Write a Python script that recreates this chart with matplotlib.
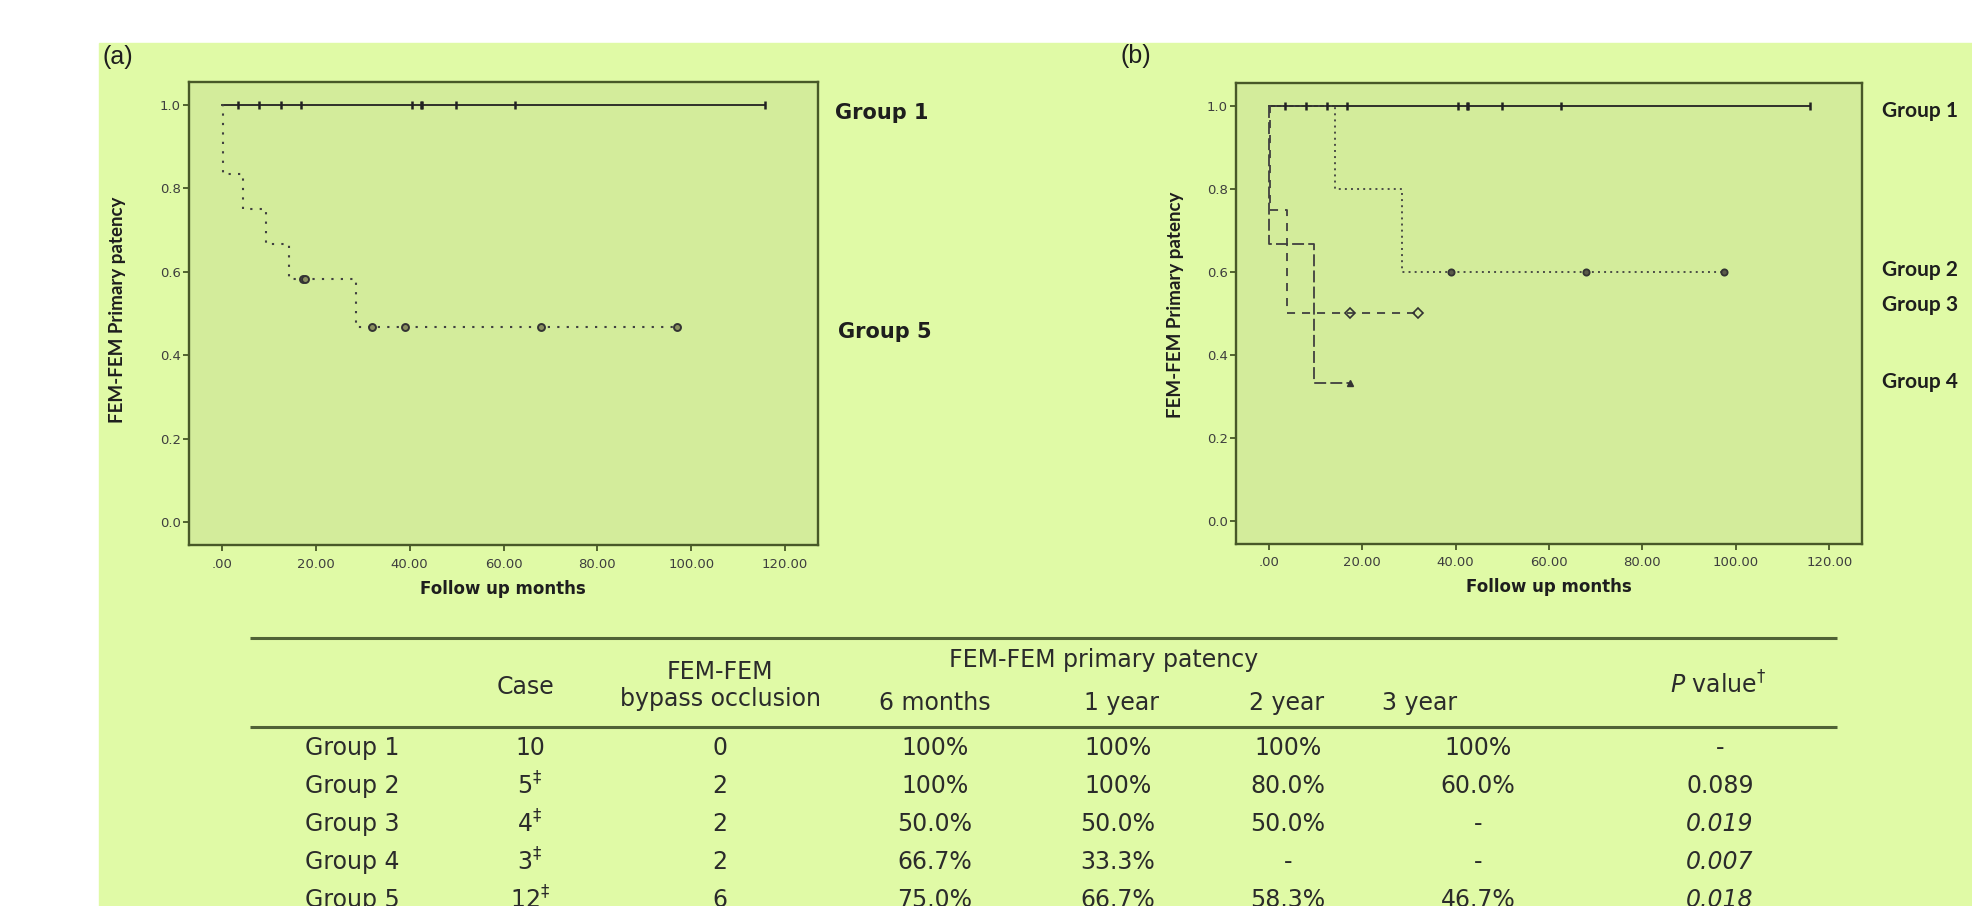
import matplotlib
matplotlib.use('Agg')
import matplotlib.pyplot as plt
import numpy as np
from matplotlib.patches import Rectangle

W, H = 1972, 906
plt.rcParams['lines.scale_dashes'] = False

# ---------------- data ----------------
# follow-up months and event flag (1 = occlusion, 0 = censored)
group1_times = [3.5, 8.0, 12.5, 16.8, 40.5, 42.5, 42.7, 49.9, 62.5, 115.8]
group1_events = [0, 0, 0, 0, 0, 0, 0, 0, 0, 0]
group2_times = [14.2, 28.6, 39.1, 68.0, 97.4]
group2_events = [1, 1, 0, 0, 0]
group3_times = [0.2, 4.0, 17.5, 32.0]
group3_events = [1, 1, 0, 0]
group4_times = [0.1, 9.6, 17.3]
group4_events = [1, 1, 0]
group5_times = [0.3, 0.3, 4.4, 9.5, 14.2, 17.2, 17.7, 28.6, 31.9, 39.1, 68.0, 97.0]
group5_events = [1, 1, 1, 1, 1, 0, 0, 1, 0, 0, 0, 0]

x_ticks = [0, 20, 40, 60, 80, 100, 120]
x_tick_labels = ['.00', '20.00', '40.00', '60.00', '80.00', '100.00', '120.00']
y_ticks = [0.0, 0.2, 0.4, 0.6, 0.8, 1.0]
y_tick_labels = ['0.0', '0.2', '0.4', '0.6', '0.8', '1.0']

table_groups = ['Group 1', 'Group 2', 'Group 3', 'Group 4', 'Group 5']
table_case = ['10', '5', '4', '3', '12']
table_case_mark = [False, True, True, True, True]
table_occlusion = ['0', '2', '2', '2', '6']
table_6m = ['100%', '100%', '50.0%', '66.7%', '75.0%']
table_1y = ['100%', '100%', '50.0%', '33.3%', '66.7%']
table_2y = ['100%', '80.0%', '50.0%', '-', '58.3%']
table_3y = ['100%', '60.0%', '-', '-', '46.7%']
table_p = ['-', '0.089', '0.019', '0.007', '0.018']
table_p_italic = [False, False, True, True, True]


def km(times, events):
    t = np.asarray(times, float)
    e = np.asarray(events, int)
    xs, ys = [0.0], [1.0]
    s = 1.0
    steps = []
    for ut in sorted(set(t[e == 1])):
        n = np.sum(t >= ut)
        d = np.sum((t == ut) & (e == 1))
        xs += [ut, ut]
        ys += [s, s * (1 - d / n)]
        s = s * (1 - d / n)
        steps.append((ut, s))
    xs.append(t.max())
    ys.append(s)

    def surv(c):
        v = 1.0
        for ut, sv in steps:
            if ut <= c:
                v = sv
        return v
    cens_t = t[e == 0]
    cens_s = np.array([surv(c) for c in cens_t])
    return xs, ys, cens_t, cens_s


LINE = '#222222'
DOT = '#404040'
styles = {
    'g1': dict(ls='-', color=LINE, lw=1.3),
    'g2': dict(ls=(0, (1.4, 3.0)), color=DOT, lw=1.3),
    'g3': dict(ls=(0, (5.8, 5.0)), color=DOT, lw=1.3),
    'g4': dict(ls=(0, (8.6, 3.0)), color=DOT, lw=1.3),
    'g5': dict(ls=(0, (1.6, 5.2)), color=DOT, lw=1.5),
}
markers = {
    'g1': dict(marker='|', ms=5.5, mew=1.8, color=LINE),
    'g2': dict(marker='o', ms=4.5, mew=1.3, mfc='#5a5a4a', mec='#333333'),
    'g3': dict(marker='D', ms=5.5, mew=1.2, mfc='none', mec='#333333'),
    'g4': dict(marker='^', ms=5, mew=1.0, mfc='#333333', mec='#333333'),
    'g5': dict(marker='o', ms=5, mew=1.4, mfc='#8a9060', mec='#333333'),
}

OUTER = '#E0FAA6'
INNER = '#D3EC9B'
SPINE = '#485828'

fig = plt.figure(figsize=(W / 100, H / 100), dpi=100)
fig.patch.set_facecolor('white')

bg = fig.add_axes([0, 0, 1, 1])
bg.set_xlim(0, W)
bg.set_ylim(H, 0)
bg.axis('off')
bg.add_patch(Rectangle((99, 43), W - 99, H - 43, color=OUTER, zorder=0))


def make_axes(left, right, top, bottom):
    ax = fig.add_axes([left / W, 1 - bottom / H, (right - left) / W, (bottom - top) / H])
    ax.set_facecolor(INNER)
    ax.set_xlim(-7, 127)
    ax.set_ylim(-0.055, 1.055)
    for sp in ax.spines.values():
        sp.set_color(SPINE)
        sp.set_linewidth(1.7)
    ax.set_xticks(x_ticks)
    ax.set_xticklabels(x_tick_labels)
    ax.set_yticks(y_ticks)
    ax.set_yticklabels(y_tick_labels)
    ax.tick_params(direction='out', length=4, width=1.3, color=SPINE,
                   labelsize=9.5, labelcolor='#3e3e3e')
    ax.tick_params(axis='x', pad=5)
    ax.tick_params(axis='y', pad=2)
    return ax


def draw_group(ax, key, times, events):
    xs, ys, ct, cs = km(times, events)
    ax.plot(xs, ys, **styles[key], zorder=3)
    ax.plot(ct, cs, ls='none', zorder=4, **markers[key])


ax_a = make_axes(189, 818, 82, 545)
draw_group(ax_a, 'g1', group1_times, group1_events)
draw_group(ax_a, 'g5', group5_times, group5_events)

ax_b = make_axes(1236, 1862, 83, 544)
draw_group(ax_b, 'g1', group1_times, group1_events)
draw_group(ax_b, 'g2', group2_times, group2_events)
draw_group(ax_b, 'g3', group3_times, group3_events)
draw_group(ax_b, 'g4', group4_times, group4_events)

TXT = '#1e1e1e'
# panel letters
bg.text(102, 57, '(a)', fontsize=18, family='Liberation Sans', color=TXT, ha='left', va='center')
bg.text(1121, 56, '(b)', fontsize=18, family='Liberation Sans', color=TXT, ha='left', va='center')

# axis labels
for xc, yc in [(117, 310), (1175, 305)]:
    bg.text(xc, yc, 'FEM-FEM Primary patency', rotation=90, fontsize=13.5,
            family=['Liberation Sans Narrow', 'Lato'], fontweight='bold',
            color=TXT, ha='center', va='center')
for xc, yc in [(503, 589), (1549, 587)]:
    bg.text(xc, yc, 'Follow up months', fontsize=12, family='DejaVu Sans',
            fontweight='bold', color=TXT, ha='center', va='center')

# group labels
for lab, xl, yl in [('Group 1', 835, 113), ('Group 5', 838, 332)]:
    bg.text(xl, yl, lab, fontsize=15, family='DejaVu Sans', fontweight='bold',
            color=TXT, ha='left', va='center')
for lab, yl in [('Group 1', 111), ('Group 2', 270), ('Group 3', 305), ('Group 4', 382)]:
    bg.text(1882, yl, lab, fontsize=15, family='Lato', fontweight='bold',
            color=TXT, ha='left', va='center')

# ---------------- table ----------------
RULE = '#506236'
bg.plot([250, 1837], [638, 638], color=RULE, lw=2.2, solid_capstyle='butt')
bg.plot([250, 1837], [727, 727], color=RULE, lw=2.2, solid_capstyle='butt')

TF = dict(fontsize=17, family='DejaVu Sans', color='#2b2b2b', va='center')
bg.text(1104, 660, 'FEM-FEM primary patency', ha='center', **TF)
bg.text(526, 687, 'Case', ha='center', **TF)
bg.text(720, 672, 'FEM-FEM', ha='center', **TF)
bg.text(720, 699, 'bypass occlusion', ha='center', **TF)
bg.text(935, 703, '6 months', ha='center', **TF)
bg.text(1121, 703, '1 year', ha='center', **TF)
bg.text(1287, 703, '2 year', ha='center', **TF)
bg.text(1420, 703, '3 year', ha='center', **TF)
bg.text(1718, 685, r'$\mathit{P}$ value$^{\dagger}$', ha='center', **TF)

row_y = [748, 786, 824, 862, 900]
for i, yv in enumerate(row_y):
    bg.text(305, yv, table_groups[i], ha='left', **TF)
    case_txt = table_case[i] + (r'$^{\ddagger}$' if table_case_mark[i] else '')
    bg.text(530, yv, case_txt, ha='center', **TF)
    bg.text(720, yv, table_occlusion[i], ha='center', **TF)
    bg.text(935, yv, table_6m[i], ha='center', **TF)
    bg.text(1118, yv, table_1y[i], ha='center', **TF)
    bg.text(1288, yv, table_2y[i], ha='center', **TF)
    bg.text(1478, yv, table_3y[i], ha='center', **TF)
    bg.text(1720, yv, table_p[i], ha='center',
            style='italic' if table_p_italic[i] else 'normal', **TF)

fig.savefig('out.png', dpi=100, facecolor=fig.get_facecolor())
